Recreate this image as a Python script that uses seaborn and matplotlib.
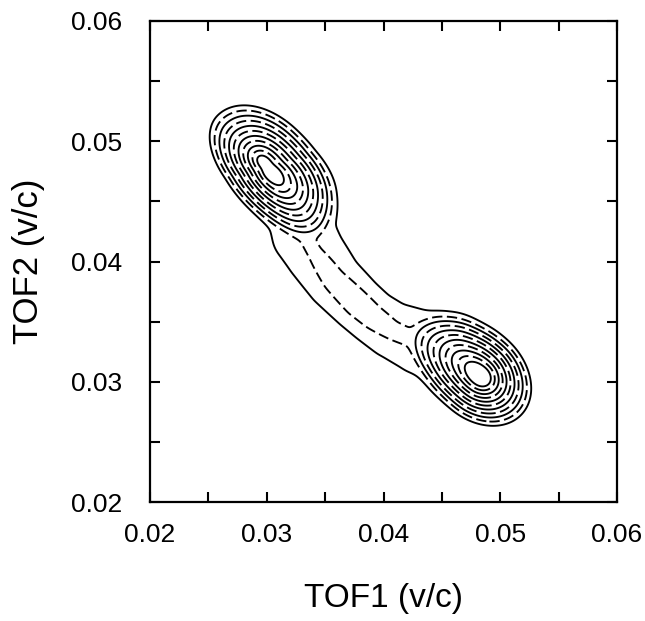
import numpy as np
import matplotlib
matplotlib.use("Agg")
import matplotlib.pyplot as plt
import seaborn as sns

# ---- data ----
# fragment peak apexes (the left peak has a double top), grouped per peak
peak_group = [0, 0, 1]
peak_x = [0.02968, 0.03028, 0.04835]
peak_y = [0.04827, 0.04744, 0.03040]
peak_amp = [12.0, 12.0, 12.1]
peak_angle_deg = [-44.0, -44.0, -39.0]
peak_ext_major_pos = [0.00720, 0.00690, 0.00506]
peak_ext_major_neg = [0.00600, 0.00641, 0.00717]
peak_ext_minor_pos = [0.00420, 0.00420, 0.00388]
peak_ext_minor_neg = [0.00360, 0.00360, 0.00385]

# ridge (bridge) connecting the peaks: vertices, ridge height and half-width
ridge_x = [0.03268, 0.03319, 0.03413, 0.03576, 0.03773, 0.03910, 0.04073, 0.04313, 0.04570, 0.04741]
ridge_y = [0.04553, 0.04229, 0.04071, 0.03846, 0.03655, 0.03538, 0.03430, 0.03331, 0.03247, 0.03164]
ridge_h = [2.0, 2.07, 2.1, 2.3, 2.5, 2.4, 2.2, 2.1, 2.05, 1.8]
ridge_w = [0.00253, 0.00228, 0.00211, 0.00186, 0.00169, 0.00169, 0.00186, 0.00220, 0.00253, 0.00253]

contour_levels = [1, 2, 3, 4, 5, 6, 7, 8, 9, 10, 11]
x_ticks = [0.02, 0.03, 0.04, 0.05, 0.06]
y_ticks = [0.02, 0.03, 0.04, 0.05, 0.06]
x_label = "TOF1 (v/c)"
y_label = "TOF2 (v/c)"

# ---- build the intensity surface ----
gx = np.linspace(0.02, 0.06, 700)
gy = np.linspace(0.02, 0.06, 700)
X, Y = np.meshgrid(gx, gy)
n_groups = max(peak_group) + 1
G = [np.zeros_like(X) for _ in range(n_groups)]
for i in range(len(peak_x)):
    t = np.deg2rad(peak_angle_deg[i])
    dx, dy = X - peak_x[i], Y - peak_y[i]
    u = dx * np.cos(t) + dy * np.sin(t)
    v = -dx * np.sin(t) + dy * np.cos(t)
    au = np.where(u >= 0, peak_ext_major_pos[i], peak_ext_major_neg[i])
    av = np.where(v >= 0, peak_ext_minor_pos[i], peak_ext_minor_neg[i])
    s = np.sqrt((u / au) ** 2 + (v / av) ** 2)
    g = peak_group[i]
    G[g] = np.maximum(G[g], peak_amp[i] * np.clip(1.0 - s, 0, None))
Z = sum(G)

R = np.zeros_like(X)
for i in range(len(ridge_x) - 1):
    x0, y0, x1, y1 = ridge_x[i], ridge_y[i], ridge_x[i + 1], ridge_y[i + 1]
    sx, sy = x1 - x0, y1 - y0
    L2 = sx * sx + sy * sy
    tt = np.clip(((X - x0) * sx + (Y - y0) * sy) / L2, 0, 1)
    px, py = x0 + tt * sx, y0 + tt * sy
    d2 = (X - px) ** 2 + (Y - py) ** 2
    h = ridge_h[i] + tt * (ridge_h[i + 1] - ridge_h[i])
    w = ridge_w[i] + tt * (ridge_w[i + 1] - ridge_w[i])
    R = np.maximum(R, h * np.exp(-0.5 * d2 / w ** 2))
Z = Z + R

# light smoothing of the surface (detector resolution)
k_sigma = 4.0
kx = np.arange(-12, 13)
kern = np.exp(-0.5 * (kx / k_sigma) ** 2)
kern /= kern.sum()
Z = np.apply_along_axis(lambda r: np.convolve(r, kern, mode="same"), 1, Z)
Z = np.apply_along_axis(lambda c: np.convolve(c, kern, mode="same"), 0, Z)

# ---- plot ----
sns.set_style("ticks")
plt.rcParams["font.family"] = ["Liberation Sans", "DejaVu Sans"]
plt.rcParams["lines.dashed_pattern"] = [5.5, 2.4]

fig = plt.figure(figsize=(6.45, 6.21), dpi=100)
ax = fig.add_axes([150 / 645, 1 - 502 / 621, 467 / 645, 481 / 621])

solid_lv = contour_levels[0::2]
dash_lv = contour_levels[1::2]
ax.contour(X, Y, Z, levels=solid_lv, colors="black", linewidths=1.35,
           linestyles="solid")
ax.contour(X, Y, Z, levels=dash_lv, colors="black", linewidths=1.35,
           linestyles="dashed")

ax.set_xlim(0.02, 0.06)
ax.set_ylim(0.02, 0.06)
ax.set_xticks(x_ticks)
ax.set_yticks(y_ticks)
ax.set_xticklabels([f"{v:.2f}" for v in x_ticks])
ax.set_yticklabels([f"{v:.2f}" for v in y_ticks])
ax.set_xticks([0.025, 0.035, 0.045, 0.055], minor=True)
ax.set_yticks([0.025, 0.035, 0.045, 0.055], minor=True)
ax.tick_params(which="both", direction="in", top=True, right=True,
               length=7, width=1.5, color="black")
ax.tick_params(axis="both", which="major", labelsize=19, labelcolor="black")
ax.tick_params(axis="x", which="major", pad=15)
ax.tick_params(axis="y", which="major", pad=20)
for s_ in ax.spines.values():
    s_.set_linewidth(1.6)
    s_.set_color("black")

ax.set_xlabel(x_label, fontsize=24, labelpad=26, color="black")
ax.set_ylabel(y_label, fontsize=25, labelpad=19, color="black")

fig.savefig("out.png", dpi=100, facecolor="white")
